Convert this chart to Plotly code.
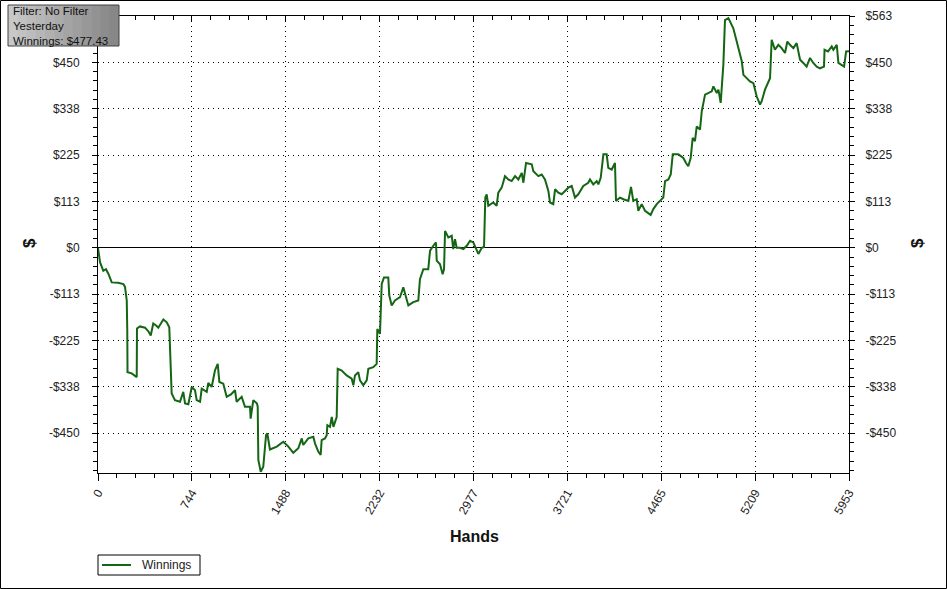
import plotly.graph_objects as go

# ---- data ----
hands = [0, 16, 42, 63, 82, 109, 159, 201, 214, 228, 232, 234, 267, 307, 309, 333, 373, 399, 418, 438,
         465, 478, 518, 545, 565, 571, 584, 610, 650, 676, 690, 716, 743, 769, 782, 809, 822, 862, 874, 901,
         927, 949, 962, 993, 1020, 1054, 1086, 1099, 1139, 1165, 1205, 1210, 1231, 1260, 1266, 1271, 1290, 1310, 1332, 1342,
         1363, 1417, 1469, 1509, 1548, 1588, 1615, 1627, 1667, 1707, 1720, 1746, 1765, 1773, 1799, 1813, 1818, 1839, 1853, 1866,
         1892, 1900, 1932, 1971, 2011, 2024, 2037, 2063, 2077, 2103, 2130, 2143, 2182, 2209, 2214, 2235, 2249, 2267, 2301, 2309,
         2328, 2354, 2394, 2420, 2441, 2460, 2499, 2539, 2552, 2579, 2618, 2632, 2658, 2679, 2685, 2711, 2732, 2743, 2751, 2777,
         2804, 2816, 2830, 2843, 2870, 2896, 2923, 2949, 2975, 2996, 3015, 3042, 3060, 3070, 3081, 3094, 3133, 3160, 3173, 3200,
         3226, 3252, 3279, 3306, 3332, 3359, 3372, 3393, 3438, 3451, 3491, 3517, 3543, 3570, 3583, 3609, 3623, 3649, 3676, 3702,
         3728, 3755, 3781, 3807, 3847, 3886, 3900, 3926, 3953, 3966, 3985, 4006, 4032, 4045, 4072, 4098, 4106, 4138, 4164, 4204,
         4225, 4243, 4270, 4283, 4310, 4336, 4362, 4381, 4402, 4429, 4455, 4481, 4495, 4521, 4540, 4556, 4600, 4640, 4661, 4679,
         4698, 4714, 4732, 4746, 4772, 4786, 4812, 4838, 4865, 4878, 4905, 4918, 4936, 4957, 4970, 4997, 5010, 5036, 5063, 5084,
         5103, 5116, 5142, 5168, 5195, 5221, 5248, 5261, 5287, 5327, 5340, 5366, 5393, 5419, 5446, 5464, 5485, 5512, 5538, 5565,
         5591, 5617, 5644, 5670, 5697, 5723, 5755, 5759, 5787, 5816, 5829, 5856, 5869, 5896, 5914, 5930, 5953]
winnings = [0, -35, -56, -52, -63, -84, -85, -88, -95, -128, -201, -302, -305, -314, -196, -191, -194, -203, -213, -184,
            -190, -194, -174, -181, -193, -245, -354, -370, -374, -350, -378, -380, -338, -346, -370, -374, -342, -350, -328, -338,
            -298, -282, -326, -330, -362, -356, -346, -374, -362, -386, -386, -415, -370, -378, -386, -515, -544, -532, -455, -451,
            -490, -483, -471, -483, -498, -487, -463, -479, -463, -459, -475, -495, -503, -467, -463, -455, -431, -435, -411, -435,
            -411, -294, -298, -310, -318, -334, -310, -302, -322, -334, -322, -294, -290, -282, -197, -209, -88, -72, -72, -116,
            -140, -128, -120, -96, -120, -140, -132, -128, -76, -52, -52, -7, 5, 13, -31, -40, -64, -52, 41, 25,
            29, -3, 21, 0, 0, -3, 5, 17, 13, 0, -15, 0, 2, 122, 130, 102, 110, 102, 134, 146,
            174, 166, 162, 174, 166, 182, 158, 206, 203, 186, 174, 178, 166, 138, 110, 106, 142, 134, 130, 138,
            146, 150, 122, 130, 150, 158, 166, 154, 162, 154, 170, 227, 227, 194, 190, 206, 114, 122, 118, 114,
            148, 114, 118, 90, 106, 90, 85, 80, 94, 106, 114, 122, 162, 166, 178, 227, 227, 218, 206, 198,
            218, 267, 259, 295, 287, 332, 372, 376, 380, 392, 376, 384, 352, 445, 553, 558, 549, 533, 501, 473,
            453, 420, 412, 404, 400, 368, 348, 356, 384, 412, 505, 481, 493, 485, 473, 501, 493, 485, 497, 457,
            449, 440, 461, 449, 440, 436, 440, 481, 477, 489, 481, 493, 449, 444, 440, 477, 477.43]

x_tick_vals = [0, 744.125, 1488.25, 2232.375, 2976.5, 3720.625, 4464.75, 5208.875, 5953]
x_tick_text = ["0", "744", "1488", "2232", "2977", "3721", "4465", "5209", "5953"]
y_tick_vals = [-450.4, -337.8, -225.2, -112.6, 0, 112.6, 225.2, 337.8, 450.4, 563]
y_tick_text = ["-$450", "-$338", "-$225", "-$113", "$0", "$113", "$225", "$338", "$450", "$563"]
x_range = [0, 5953]
y_range = [-547, 563]

info_lines = ["Filter: No Filter", "Yesterday", "Winnings: $477.43"]
series_name = "Winnings"

# ---- figure ----
W, H = 947, 589
L, R, T, B = 98, 98, 16, 116
pw, ph = W - L - R, H - T - B


def px2paper_x(px):
    return (px - L) / pw


def px2paper_y(py):
    return (H - B - py) / ph


FONT = "Liberation Sans, Arial, sans-serif"
GREEN = "#146614"
DOTS = "1px,4px"

x_minor = [i * 5953 / 40 for i in range(41)]
y_minor = [i * 112.6 / 5 for i in range(-24, 26)]
# the left $563 label sits under the info box in the reference
y_tick_text_left = [t if v != 563 else "" for v, t in zip(y_tick_vals, y_tick_text)]

fig = go.Figure()
fig.add_trace(go.Scatter(x=hands, y=winnings, mode="lines", name=series_name,
                         line=dict(color=GREEN, width=2), hoverinfo="skip", showlegend=False))
# helper traces so the mirrored axes get drawn
fig.add_trace(go.Scatter(x=[None], y=[None], xaxis="x2", yaxis="y", showlegend=False, hoverinfo="skip"))
fig.add_trace(go.Scatter(x=[None], y=[None], xaxis="x", yaxis="y2", showlegend=False, hoverinfo="skip"))

common_tick = dict(family=FONT, size=12, color="#222222")

fig.update_layout(
    width=W, height=H, autosize=False,
    margin=dict(l=L, r=R, t=T, b=B, pad=0, autoexpand=False),
    paper_bgcolor="white", plot_bgcolor="white",
    font=dict(family=FONT, size=12, color="#222222"),
    showlegend=False,
    xaxis=dict(range=x_range, tickmode="array", tickvals=x_tick_vals, ticktext=x_tick_text,
               tickangle=-60, tickfont=common_tick, automargin=False,
               showline=True, linecolor="black", linewidth=1,
               ticks="outside", ticklen=7, tickcolor="black", tickwidth=1,
               minor=dict(tickmode="array", tickvals=x_minor, ticks="outside", ticklen=4,
                          tickcolor="black", showgrid=False),
               showgrid=True, gridcolor="black", griddash=DOTS, gridwidth=1,
               zeroline=False, mirror=False),
    xaxis2=dict(range=x_range, overlaying="x", side="top", anchor="y", automargin=False,
                tickmode="array", tickvals=x_tick_vals, showticklabels=False,
                showline=True, linecolor="black", linewidth=1,
                ticks="inside", ticklen=5, tickcolor="black",
                minor=dict(tickmode="array", tickvals=x_minor, ticks="inside", ticklen=4, tickcolor="black"),
                showgrid=False, zeroline=False),
    yaxis=dict(range=y_range, tickmode="array", tickvals=y_tick_vals, ticktext=y_tick_text_left,
               tickfont=common_tick, automargin=False,
               showline=True, linecolor="black", linewidth=1,
               ticks="outside", ticklen=5, tickcolor="black",
               minor=dict(tickmode="array", tickvals=y_minor, ticks="outside", ticklen=4,
                          tickcolor="black", showgrid=False),
               showgrid=True, gridcolor="black", griddash=DOTS, gridwidth=1,
               zeroline=True, zerolinecolor="black", zerolinewidth=1,
               ticklabelstandoff=10),
    yaxis2=dict(range=y_range, overlaying="y", side="right", anchor="x", automargin=False,
                tickmode="array", tickvals=y_tick_vals, ticktext=y_tick_text,
                tickfont=common_tick,
                showline=True, linecolor="black", linewidth=1,
                ticks="outside", ticklen=5, tickcolor="black",
                minor=dict(tickmode="array", tickvals=y_minor, ticks="outside", ticklen=4, tickcolor="black"),
                showgrid=False, zeroline=False, ticklabelstandoff=8),
)

# outer border of the whole image
fig.add_shape(type="rect", xref="paper", yref="paper",
              x0=px2paper_x(0.5), x1=px2paper_x(W - 0.5), y0=px2paper_y(H - 0.5), y1=px2paper_y(0.5),
              line=dict(color="black", width=1), fillcolor="rgba(0,0,0,0)", layer="above")

# info box: gray gradient made of strips, then a border and the text
box_l, box_r, box_t, box_b = 8, 119, 5, 46
n_strips = 12
for i in range(n_strips):
    g = int(200 - (200 - 135) * i / (n_strips - 1))
    x0 = box_l + (box_r - box_l) * i / n_strips
    x1 = box_l + (box_r - box_l) * (i + 1) / n_strips + 0.6
    fig.add_shape(type="rect", xref="paper", yref="paper",
                  x0=px2paper_x(x0), x1=px2paper_x(min(x1, box_r)),
                  y0=px2paper_y(box_b), y1=px2paper_y(box_t),
                  line=dict(width=0), fillcolor=f"rgb({g},{g},{g})", layer="above")
fig.add_shape(type="rect", xref="paper", yref="paper",
              x0=px2paper_x(box_l), x1=px2paper_x(box_r), y0=px2paper_y(box_b), y1=px2paper_y(box_t),
              line=dict(color="#404040", width=1), fillcolor="rgba(0,0,0,0)", layer="above")
fig.add_annotation(text="<br>".join(info_lines), xref="paper", yref="paper",
                   x=px2paper_x(11), y=px2paper_y((box_t + box_b) / 2 + 1), xanchor="left", yanchor="middle",
                   align="left", showarrow=False,
                   font=dict(family=FONT, size=11.5, color="#111111"))

# legend drawn by hand (box, line sample, label)
fig.add_shape(type="rect", xref="paper", yref="paper",
              x0=px2paper_x(98), x1=px2paper_x(200), y0=px2paper_y(575), y1=px2paper_y(555),
              line=dict(color="black", width=1), fillcolor="white", layer="above")
fig.add_shape(type="line", xref="paper", yref="paper",
              x0=px2paper_x(102), x1=px2paper_x(131), y0=px2paper_y(565), y1=px2paper_y(565),
              line=dict(color=GREEN, width=2), layer="above")
fig.add_annotation(text=series_name, xref="paper", yref="paper",
                   x=px2paper_x(140), y=px2paper_y(565), xanchor="left", yanchor="middle",
                   showarrow=False, font=dict(family=FONT, size=12, color="#222222"))

# axis titles
fig.add_annotation(text="<b>Hands</b>", xref="paper", yref="paper",
                   x=px2paper_x(474), y=px2paper_y(536), xanchor="center", yanchor="middle",
                   showarrow=False, font=dict(family=FONT, size=16, color="#111111"))
for xp in (29, 917):
    fig.add_annotation(text="<b>$</b>", xref="paper", yref="paper",
                       x=px2paper_x(xp), y=px2paper_y(243), xanchor="center", yanchor="middle",
                       textangle=-90, showarrow=False, font=dict(family=FONT, size=17, color="#111111"))

fig.write_html("out.html", config={"displayModeBar": False, "responsive": False},
               post_script="document.body.style.margin='0';document.body.style.overflow='hidden';")
